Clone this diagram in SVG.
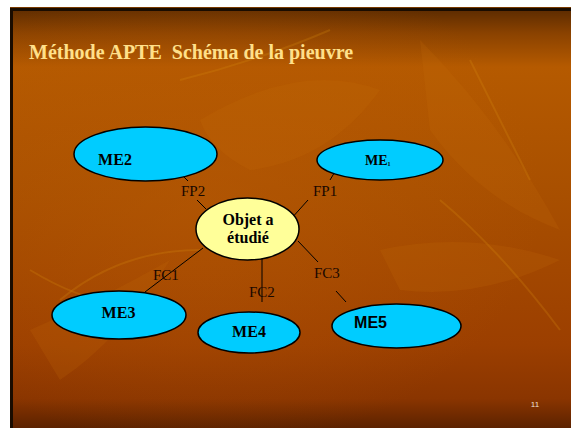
<svg xmlns="http://www.w3.org/2000/svg" width="571" height="428" viewBox="0 0 571 428">
<defs>
<linearGradient id="bg" x1="0" y1="0" x2="0" y2="1">
<stop offset="0" stop-color="#5a2a00"/>
<stop offset="0.06" stop-color="#8a4200"/>
<stop offset="0.14" stop-color="#b55a00"/>
<stop offset="0.45" stop-color="#a84f00"/>
<stop offset="0.8" stop-color="#9c3f00"/>
<stop offset="0.93" stop-color="#8a3500"/>
<stop offset="1" stop-color="#5c2200"/>
</linearGradient>
<radialGradient id="glow" cx="0.35" cy="0.45" r="0.6">
<stop offset="0" stop-color="#b85a05" stop-opacity="0.5"/>
<stop offset="1" stop-color="#b85a05" stop-opacity="0"/>
</radialGradient>
</defs>
<style>
.me{fill:#00ccff;stroke:#000;stroke-width:1.5}
.obj{fill:#ffff99;stroke:#000;stroke-width:1.5}
.lbl{font-family:"Liberation Serif",serif;font-weight:bold;font-size:16px;fill:#000;text-anchor:middle}
.fn{font-family:"Liberation Serif",serif;font-size:15px;fill:#1a0800}
.ln{stroke:#000;stroke-width:1;fill:none}
.leaf{fill:#c8700a;opacity:0.18}
.vein{stroke:#d88a10;stroke-width:2;fill:none;opacity:0.25}
</style>
<rect x="0" y="0" width="571" height="428" fill="#ffffff"/>
<g id="background">
<rect x="10" y="8" width="561" height="420" fill="url(#bg)"/>
<rect x="10" y="8" width="561" height="420" fill="url(#glow)"/>
<path class="leaf" d="M200 120 Q300 60 380 90 Q330 160 250 170 Q210 150 200 120Z"/>
<path class="leaf" d="M420 40 Q500 120 560 230 Q480 200 430 130Z"/>
<path class="leaf" d="M30 330 Q100 300 170 260 Q120 340 60 380Z"/>
<path class="leaf" d="M380 250 Q470 230 560 260 Q480 300 400 290Z"/>
<path class="vein" d="M60 300 Q120 250 200 250"/>
<path class="vein" d="M30 270 Q80 300 110 300"/>
<path class="vein" d="M180 80 Q260 60 330 30"/>
<path class="vein" d="M440 200 Q500 250 560 330"/>
<path class="vein" d="M470 60 Q500 120 530 180"/>
<rect x="10" y="8" width="3" height="420" fill="#1a0c00"/>
<rect x="10" y="8" width="561" height="3" fill="#1a0c00"/>
<rect x="10" y="7" width="561" height="1" fill="#7a3a00"/>
</g>
<text id="title" x="29" y="59" font-family="Liberation Serif,serif" font-weight="bold" font-size="20" fill="#ffe08a" style="white-space:pre" xml:space="preserve">Méthode APTE  Schéma de la pieuvre</text>
<g id="connectors">
<line class="ln" x1="177" y1="170" x2="188" y2="181"/>
<line class="ln" x1="197" y1="200" x2="206" y2="209"/>
<line class="ln" x1="336" y1="170" x2="330" y2="180"/>
<line class="ln" x1="308" y1="200" x2="290" y2="220"/>
<line class="ln" x1="203" y1="248" x2="145" y2="292"/>
<line class="ln" x1="262" y1="250" x2="262" y2="302"/>
<line class="ln" x1="298" y1="241" x2="318" y2="262"/>
<line class="ln" x1="336" y1="291" x2="346" y2="302"/>
<text class="fn" x="181" y="196">FP2</text>
<text class="fn" x="313" y="196">FP1</text>
<text class="fn" x="153" y="280">FC1</text>
<text class="fn" x="249" y="297">FC2</text>
<text class="fn" x="314" y="278">FC3</text>
</g>
<g id="ME2">
<ellipse class="me" cx="145.5" cy="154" rx="71.5" ry="27"/>
<text class="lbl" x="115" y="165">ME2</text>
</g>
<g id="ME1">
<ellipse class="me" cx="380" cy="160" rx="63" ry="20"/>
<text x="365" y="165" font-family="Liberation Serif,serif" font-weight="bold" font-size="14" fill="#000">ME<tspan font-size="6" dy="1">1</tspan></text>
</g>
<g id="objet">
<ellipse class="obj" cx="247.5" cy="229" rx="51.5" ry="31"/>
<text class="lbl" x="248" y="225" font-size="15">Objet a</text>
<text class="lbl" x="248" y="243" font-size="15">étudié</text>
</g>
<g id="ME3">
<ellipse class="me" cx="119" cy="315" rx="67" ry="24"/>
<text class="lbl" x="118.5" y="318">ME3</text>
</g>
<g id="ME4">
<ellipse class="me" cx="249" cy="332.5" rx="51" ry="20.5"/>
<text class="lbl" x="249" y="337">ME4</text>
</g>
<g id="ME5">
<ellipse class="me" cx="396.5" cy="326" rx="64.5" ry="22"/>
<text x="370.5" y="328" font-family="Liberation Sans,sans-serif" font-weight="bold" font-size="16" fill="#000" text-anchor="middle">ME5</text>
</g>
<text id="page" x="535" y="407" font-family="Liberation Sans,sans-serif" font-size="8" fill="#f0e0d0" text-anchor="middle">11</text>
</svg>
